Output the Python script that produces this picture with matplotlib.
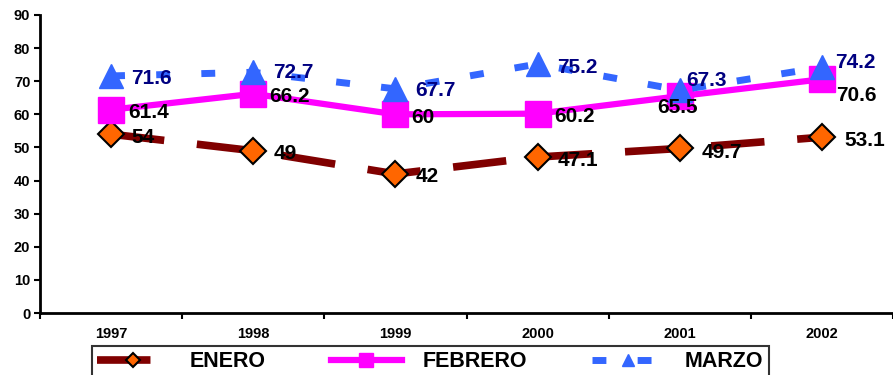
import matplotlib.pyplot as plt
import numpy as np

# data
years = ['1997', '1998', '1999', '2000', '2001', '2002']
enero = [54, 49, 42, 47.1, 49.7, 53.1]
febrero = [61.4, 66.2, 60, 60.2, 65.5, 70.6]
marzo = [71.6, 72.7, 67.7, 75.2, 67.3, 74.2]

plt.rcParams['font.family'] = ['Liberation Sans', 'DejaVu Sans']
plt.rcParams['font.weight'] = 'bold'

fig = plt.figure(figsize=(8.93, 3.75), dpi=100)
ax = fig.add_axes([0.0448, 0.1653, 0.9552, 0.7947])

x = np.arange(len(years)) + 0.5

l1, = ax.plot(x, enero, color='#800000', lw=5.5, dashes=(7, 4.3),
              marker='D', markersize=13, markerfacecolor='#FF6600',
              markeredgecolor='black', markeredgewidth=1.5, label='ENERO')
l2, = ax.plot(x, febrero, color='#FF00FF', lw=4.5,
              marker='s', markersize=19, markerfacecolor='#FF00FF',
              markeredgecolor='#FF00FF', label='FEBRERO')
l3, = ax.plot(x, marzo, color='#3366FF', lw=5, dashes=(2.0, 4.5),
              marker='^', markersize=17, markerfacecolor='#3366FF',
              markeredgecolor='#3366FF', label='MARZO')

# label offsets in pixels (dx, dy), left aligned, centered vertically
off_e = [(20, -3), (20, -3), (20, -3), (20, -3), (22, -4), (22, -3)]
off_f = [(17, -3), (16, -3), (16, -3), (17, -3), (-23, -11), (14, -16)]
off_m = [(20, -3), (20, 0), (20, -2), (20, -3), (6, 10), (13, 5)]

for vals, offs, col in [(enero, off_e, 'black'), (febrero, off_f, 'black'),
                        (marzo, off_m, '#000080')]:
    for xi, v, (dx, dy) in zip(x, vals, offs):
        ax.annotate(f'{v:g}', (xi, v), xytext=(dx, dy), textcoords='offset pixels',
                    ha='left', va='center', fontsize=15, fontweight='bold',
                    color=col)

ax.set_xlim(0, 6)
ax.set_ylim(0, 90)
ax.set_yticks(range(0, 91, 10))
ax.set_xticks(range(0, 7))
ax.set_xticklabels([])
ax.set_xticks(x, minor=True)
ax.set_xticklabels(years, minor=True)
ax.tick_params(axis='x', which='minor', length=0, pad=10, labelsize=10.5)
ax.tick_params(axis='x', which='major', length=4, width=1.5, direction='out')
ax.tick_params(axis='y', length=4, width=1.5, direction='out', labelsize=10.5, pad=3)
for lab in ax.get_xticklabels(minor=True) + ax.get_yticklabels():
    lab.set_fontweight('bold')

for s in ['top', 'right']:
    ax.spines[s].set_visible(False)
for s in ['left', 'bottom']:
    ax.spines[s].set_linewidth(2)
ax.spines['bottom'].set_clip_on(False)

leg = fig.legend(handles=[l1, l2, l3], loc='upper left',
                 bbox_to_anchor=(92 / 893, 1 - 346 / 375), ncol=3,
                 frameon=True, fancybox=False, edgecolor='black',
                 prop={'size': 15.5, 'weight': 'bold'}, handlelength=3.3,
                 columnspacing=3.0, borderpad=0.25, handletextpad=1.0,
                 borderaxespad=0, markerscale=0.55)
leg.get_frame().set_linewidth(1.5)

fig.savefig('out.png', dpi=100)
